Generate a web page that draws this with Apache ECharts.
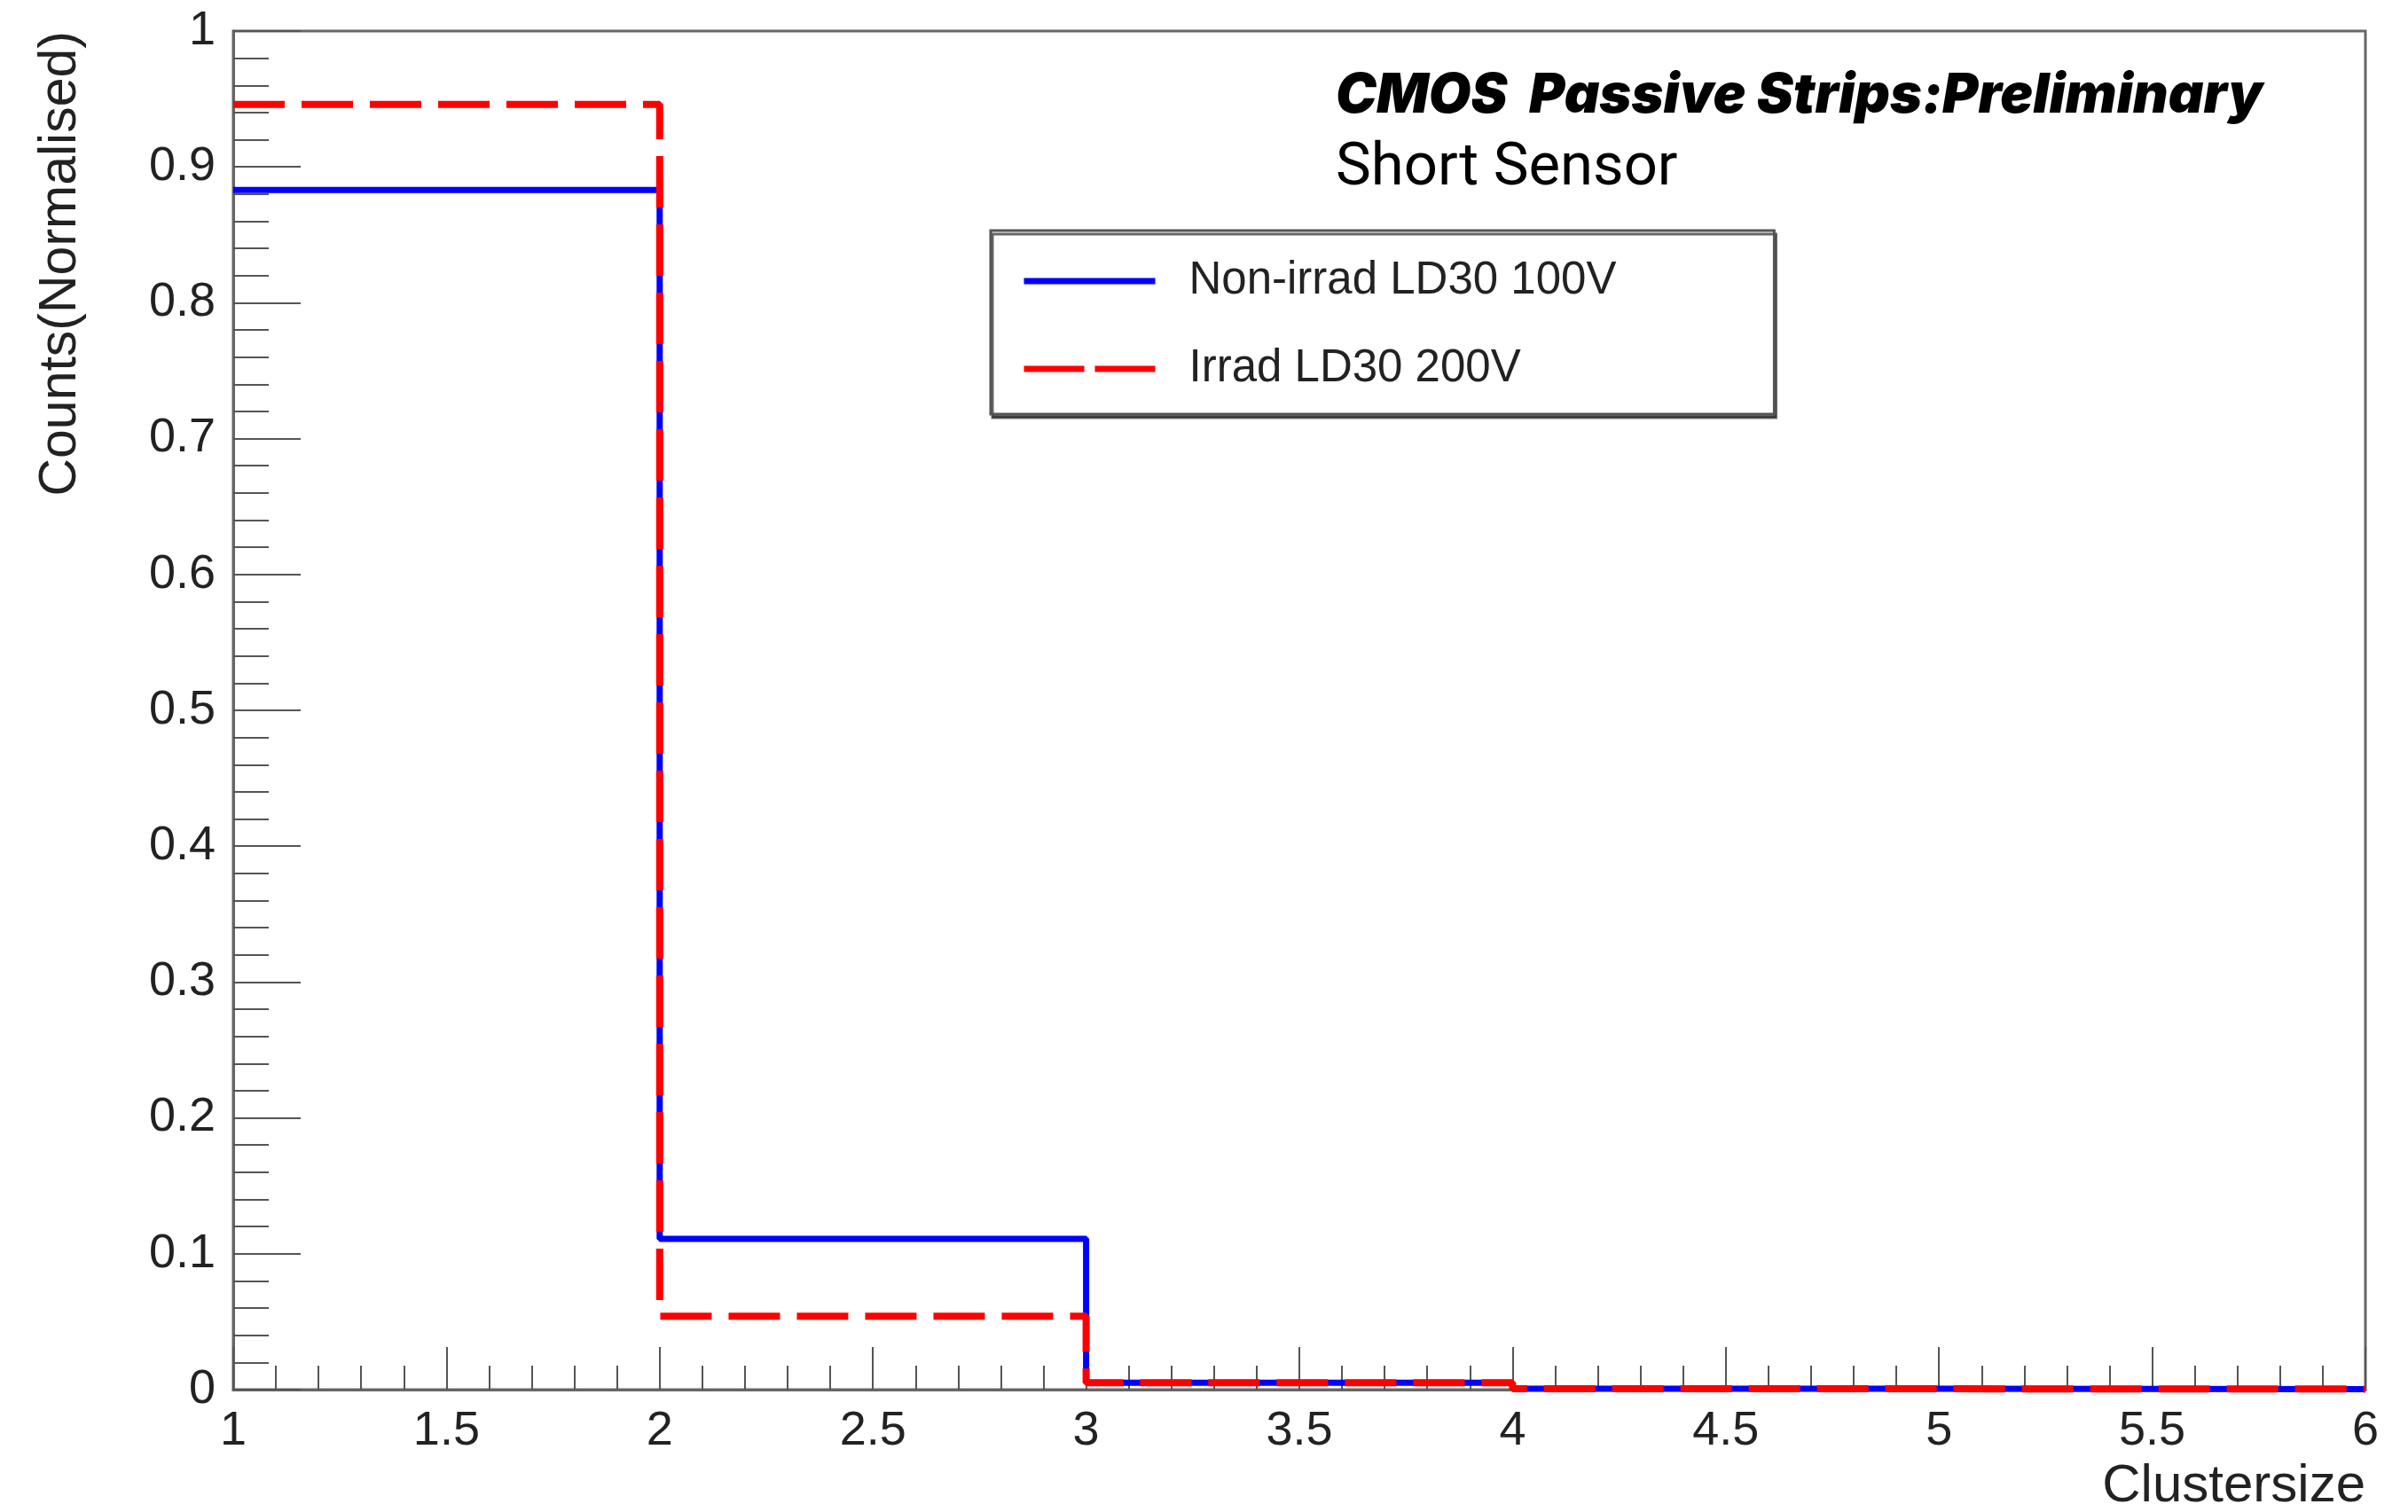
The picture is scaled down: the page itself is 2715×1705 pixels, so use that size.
<!DOCTYPE html>
<html>
<head>
<meta charset="utf-8">
<script src="https://cdn.jsdelivr.net/npm/echarts@6/dist/echarts.min.js"></script>
<style>
  html, body { margin: 0; padding: 0; background: #fff; }
  #chart { width: 2715px; height: 1705px; }
</style>
</head>
<body>
<div id="chart"></div>
<script>
  // bin edges of the cluster size histogram
  var binEdges = [1, 2, 3, 4, 5, 6];
  // normalised counts per bin
  var nonIrrad = [0.883, 0.111, 0.005, 0.0006, 0.0004];
  var irrad = [0.946, 0.054, 0.005, 0.0006, 0.0004];
  var seriesNames = ['Non-irrad LD30 100V', 'Irrad LD30 200V'];
  var xTicks = [1, 1.5, 2, 2.5, 3, 3.5, 4, 4.5, 5, 5.5, 6];
  var yTicks = [0, 0.1, 0.2, 0.3, 0.4, 0.5, 0.6, 0.7, 0.8, 0.9, 1];

  // histogram -> step points (last bin repeated at the right edge)
  function steps(vals){
    var pts = [];
    for (var i = 0; i < vals.length; i++) pts.push([binEdges[i], vals[i]]);
    pts.push([binEdges[binEdges.length - 1], vals[vals.length - 1]]);
    return pts;
  }

  var font = '"Liberation Sans", Arial, sans-serif';
  var chart = echarts.init(document.getElementById('chart'));
  chart.setOption({
    animation: false,
    backgroundColor: '#fff',
    grid: {
      left: 263, right: 48, top: 35, bottom: 138,
      show: true, borderColor: '#666', borderWidth: 3, backgroundColor: 'transparent'
    },
    legend: {
      orient: 'vertical',
      left: 1117, top: 260,
      padding: [29, 178, 23, 34],
      itemGap: 43,
      itemWidth: 148, itemHeight: 20,
      borderColor: '#555', borderWidth: 3,
      shadowColor: 'rgba(0,0,0,0.6)', shadowBlur: 0, shadowOffsetY: 4, shadowOffsetX: 2,
      backgroundColor: '#fff',
      itemStyle: { opacity: 0 },
      lineStyle: { width: 7 },
      data: [
        { name: seriesNames[0] },
        { name: seriesNames[1], lineStyle: { type: [68, 12] } }
      ],
      textStyle: { fontFamily: font, fontSize: 51, color: '#222', lineHeight: 56, padding: [0, 0, 0, 33] }
    },
    xAxis: {
      type: 'value', min: xTicks[0], max: xTicks[xTicks.length - 1], interval: 0.5,
      axisLine: { lineStyle: { color: '#666', width: 3 } },
      axisTick: { inside: true, length: 48, lineStyle: { color: '#555', width: 2 } },
      minorTick: { show: true, splitNumber: 5, length: 27, lineStyle: { color: '#555', width: 2 } },
      splitLine: { show: false },
      axisLabel: { fontFamily: font, fontSize: 54, color: '#222', margin: 20, showMinLabel: true, showMaxLabel: true }
    },
    yAxis: {
      type: 'value', min: yTicks[0], max: yTicks[yTicks.length - 1], interval: 0.1,
      axisLine: { show: true, lineStyle: { color: '#666', width: 3 } },
      axisTick: { show: true, inside: true, length: 76, lineStyle: { color: '#555', width: 2 } },
      minorTick: { show: true, splitNumber: 5, length: 40, lineStyle: { color: '#555', width: 2 } },
      splitLine: { show: false },
      axisLabel: { fontFamily: font, fontSize: 54, color: '#222', margin: 20 }
    },
    series: [
      {
        name: seriesNames[0], type: 'line', step: 'end', symbol: 'none',
        lineStyle: { color: '#0000ff', width: 7 }, itemStyle: { color: '#0000ff' },
        data: steps(nonIrrad)
      },
      {
        name: seriesNames[1], type: 'line', step: 'end', symbol: 'none',
        lineStyle: { color: '#ff0000', width: 8, type: [58, 19] }, itemStyle: { color: '#ff0000' },
        data: steps(irrad)
      }
    ],
    graphic: [
      {
        type: 'text', x: 69, y: 35, rotation: Math.PI / 2,
        style: { text: 'Counts(Normalised)', fontFamily: font, fontSize: 59, fill: '#222',
                 textAlign: 'right', textVerticalAlign: 'middle' }
      },
      {
        type: 'text', x: 2667, y: 1676,
        style: { text: 'Clustersize', fontFamily: font, fontSize: 60, fill: '#222',
                 textAlign: 'right', textVerticalAlign: 'middle' }
      },
      {
        type: 'text', x: 1506, y: 109,
        style: { text: 'CMOS  Passive Strips:Preliminary', fontFamily: 'Inter, Roboto, sans-serif',
                 fontSize: 61.5, fontWeight: 900, fontStyle: 'italic', fill: '#000',
                 textAlign: 'left', textVerticalAlign: 'middle' }
      },
      {
        type: 'text', x: 1506, y: 191,
        style: { text: 'Short Sensor', fontFamily: 'Roboto, "Noto Sans", sans-serif',
                 fontSize: 67, fill: '#000', textAlign: 'left', textVerticalAlign: 'middle' }
      }
    ]
  });
</script>
</body>
</html>
